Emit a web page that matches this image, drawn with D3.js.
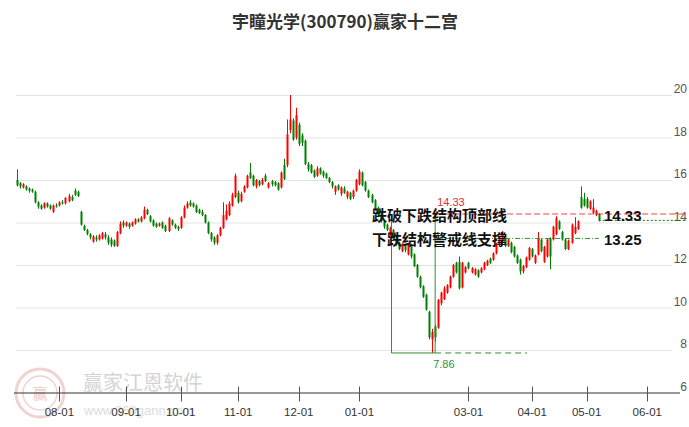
<!DOCTYPE html>
<html><head><meta charset="utf-8">
<script src="https://cdn.jsdelivr.net/npm/d3@7/dist/d3.min.js"></script>
<style>body{margin:0;background:#fff}svg{display:block}</style>
</head><body><svg id="c" width="689" height="427"></svg>
<script>
const chartTitle = "宇瞳光学(300790)赢家十二宫";
// [open, close, high, low] per trading day
const candles = [
[16.0,15.75,16.5,15.7],[15.85,15.7,15.9,15.6],[15.65,15.8,15.85,15.6],[15.7,15.55,15.75,15.5],[15.6,15.5,15.65,15.4],
[15.55,15.45,15.6,15.4],[15.45,14.95,15.5,14.9],[14.95,14.75,15.0,14.65],[14.8,14.65,14.85,14.6],[14.7,14.9,14.95,14.65],
[14.9,14.75,14.95,14.7],[14.8,14.65,14.85,14.6],[14.5,14.8,14.85,14.45],[14.8,14.75,14.9,14.7],[14.8,14.95,15.0,14.75],
[14.95,14.9,15.05,14.85],[14.9,15.15,15.2,14.85],[15.0,15.25,15.35,14.95],[15.2,15.05,15.3,15.0],[15.5,15.3,15.6,15.25],
[15.45,15.25,15.5,15.2],[14.5,13.9,14.55,13.85],[13.85,13.65,13.9,13.6],[13.65,13.45,13.7,13.4],[13.45,13.3,13.5,13.2],
[13.1,13.35,13.4,13.05],[13.3,13.2,13.4,13.1],[13.2,13.4,13.45,13.15],[13.25,13.5,13.55,13.2],[13.45,13.3,13.55,13.2],
[13.3,13.05,13.4,12.95],[13.2,12.95,13.3,12.85],[13.15,12.9,13.2,12.85],[12.9,13.55,13.6,12.85],[13.5,13.95,14.05,13.45],
[14.0,13.85,14.1,13.75],[13.85,14.0,14.05,13.8],[13.95,13.8,14.0,13.7],[13.85,14.0,14.05,13.8],[13.95,14.15,14.2,13.9],
[14.15,14.05,14.2,14.0],[14.05,14.25,14.3,14.0],[14.2,14.6,14.75,14.15],[14.6,14.4,14.65,14.35],[14.3,14.05,14.35,14.0],
[14.1,13.85,14.15,13.8],[13.95,13.8,14.0,13.75],[13.85,13.95,14.0,13.8],[14.0,13.75,14.05,13.7],[13.85,13.6,13.9,13.55],
[13.6,14.2,14.25,13.55],[14.1,13.9,14.15,13.85],[13.9,13.75,13.95,13.7],[13.8,13.7,13.85,13.6],[13.75,14.25,14.3,13.7],
[14.25,14.7,14.8,14.2],[14.7,14.9,15.0,14.65],[14.95,14.8,15.05,14.75],[14.9,14.75,14.95,14.7],[14.8,14.5,14.85,14.45],
[14.6,14.45,14.65,14.4],[14.5,14.35,14.6,14.3],[14.35,14.0,14.4,13.95],[14.0,13.5,14.05,13.45],[13.5,13.2,13.55,13.1],
[13.3,13.05,13.35,12.95],[13.05,13.4,13.45,12.95],[13.4,13.75,13.8,13.35],[13.75,14.35,14.95,13.7],[14.15,14.55,14.85,14.1],
[14.35,14.9,15.0,14.3],[14.8,15.3,15.4,14.75],[15.2,16.2,16.3,15.15],[15.4,14.95,15.5,14.9],[15.0,15.35,15.45,14.95],
[15.45,15.7,15.75,15.4],[15.65,16.2,16.25,15.6],[16.35,16.1,16.8,16.05],[16.2,15.75,16.25,15.7],[15.7,16.0,16.05,15.6],
[15.95,15.75,16.0,15.7],[15.8,16.0,16.1,15.75],[16.2,15.95,16.3,15.9],[15.65,15.85,15.9,15.6],[15.95,15.8,16.0,15.7],
[15.9,15.75,15.95,15.7],[15.85,15.55,15.9,15.5],[15.65,16.35,16.4,15.6],[16.7,16.05,17.0,16.0],[16.7,18.15,18.85,16.6],
[18.35,18.85,20.0,18.2],[18.8,17.9,18.9,17.85],[18.0,19.05,19.4,17.9],[18.6,17.7,18.7,17.6],[18.1,17.75,18.2,17.6],
[17.85,16.75,17.9,16.7],[16.75,16.5,16.85,16.4],[16.7,16.35,16.75,16.3],[16.45,16.15,16.5,16.1],[16.2,16.55,16.65,16.15],
[16.55,16.3,16.6,16.25],[16.4,16.2,16.45,16.1],[16.3,16.1,16.35,16.05],[16.1,15.9,16.15,15.85],[15.9,15.7,15.95,15.6],
[15.45,15.7,15.75,15.3],[15.75,15.55,15.8,15.5],[15.35,15.65,15.7,15.25],[15.6,15.4,15.7,15.35],[15.2,15.45,15.5,15.1],
[15.4,15.1,15.45,15.05],[15.2,15.5,15.55,15.1],[15.5,16.0,16.05,15.45],[15.8,16.4,16.5,15.75],[16.35,15.75,16.4,15.7],
[15.9,15.5,15.95,15.45],[15.5,15.2,15.55,15.15],[15.3,14.95,15.35,14.9],[15.05,14.6,15.1,14.55],[14.7,14.3,14.75,14.25],
[14.45,14.05,14.5,14.0],[14.05,13.8,14.1,13.7],[13.9,13.65,13.95,13.6],[13.45,13.75,13.8,13.35],[13.65,13.2,13.7,13.15],
[13.3,12.95,13.35,12.9],[13.05,12.75,13.1,12.7],[12.65,13.0,13.05,12.6],[12.95,12.7,13.0,12.6],[12.5,13.0,13.05,12.45],
[12.95,12.4,13.0,12.3],[12.5,11.95,12.55,11.9],[12.0,11.45,12.05,11.4],[11.45,10.95,11.5,10.9],[11.0,10.5,11.05,10.45],
[10.6,9.9,10.65,9.85],[9.8,8.6,9.85,8.5],[8.5,8.85,9.0,7.86],[9.1,8.6,9.2,8.4],[9.05,10.35,10.4,9.0],
[10.2,10.7,10.75,10.1],[10.4,10.9,11.0,10.35],[10.7,11.05,11.1,10.65],[10.95,11.45,11.5,10.9],[11.45,12.0,12.05,11.4],
[12.1,11.65,12.15,11.6],[12.15,10.9,12.4,10.85],[10.95,12.1,12.15,10.9],[11.65,11.9,11.95,11.6],[12.1,11.85,12.15,11.8],
[11.65,11.85,11.9,11.6],[11.55,11.8,11.85,11.5],[11.75,11.45,11.8,11.4],[11.65,11.85,11.9,11.6],[11.8,12.1,12.15,11.75],
[12.0,12.2,12.25,11.95],[12.3,12.1,12.35,12.05],[12.25,12.55,12.6,12.2],[12.55,13.0,13.05,12.5],[12.95,13.3,13.35,12.9],
[13.1,13.55,13.6,13.05],[13.35,12.9,13.4,12.85],[12.9,13.2,13.25,12.85],[13.05,12.6,13.1,12.55],[12.85,12.4,12.9,12.35],
[12.45,12.1,12.5,12.05],[12.25,11.7,12.3,11.55],[11.7,11.95,12.0,11.6],[11.9,12.35,12.4,11.85],[12.25,12.8,12.85,12.2],
[12.75,12.4,12.8,12.35],[12.1,12.45,12.5,12.05],[12.5,13.25,13.55,12.45],[13.2,12.65,13.25,12.6],[12.15,12.85,12.9,12.1],
[12.4,13.2,13.25,12.35],[13.25,12.4,13.3,11.8],[13.2,13.8,13.85,13.15],[13.45,14.2,14.3,13.4],[14.05,13.7,14.1,13.65],
[13.55,13.2,13.6,13.15],[13.2,12.75,13.25,12.7],[12.75,13.15,13.2,12.7],[13.05,13.9,13.95,13.0],[13.5,13.8,14.25,13.45],
[13.7,14.05,14.1,13.65],[15.2,14.7,15.7,14.65],[15.1,14.8,15.4,14.75],[15.1,14.7,15.2,14.65],[14.65,15.0,15.05,14.6],
[14.45,14.7,15.1,14.4],[14.35,14.55,14.6,14.3],[14.4,14.1,14.45,14.05]
];
const yTickValues = [6, 8, 10, 12, 14, 16, 18, 20];
const xTickIndex = [14, 36, 54, 73, 93, 113, 149, 170, 188, 208];
const xTickLabels = ["08-01","09-01","10-01","11-01","12-01","01-01","03-01","04-01","05-01","06-01"];
const topLinePrice = 14.33, supportPrice = 13.25, lowPrice = 7.86;
const boxLeftIdx = 123.6, boxRightIdx = 138, lowLineEndIdx = 168.3;
const signalTexts = ["跌破下跌结构顶部线", "下跌结构警戒线支撑"];
const signalValues = ["14.33", "13.25"];
const watermark = ["赢家江恩软件", "www.360gann.com"];

const svg = d3.select("#c");
const x = d3.scaleLinear().domain([0, 216]).range([17, 671.5]);
const y = d3.scaleLinear().domain([6, 20]).range([392.5, 95]);
const RED = "#ff0000", GREEN = "#008000";
const cjk = "'Noto Sans CJK SC','Noto Sans',sans-serif";
const latin = "'Liberation Sans',Arial,sans-serif";

// watermark
const wm = svg.append("g");
wm.append("circle").attr("cx", 40).attr("cy", 393).attr("r", 24).attr("fill", "none").attr("stroke", "#f2d2d2").attr("stroke-width", 3);
wm.append("circle").attr("cx", 40).attr("cy", 393).attr("r", 17).attr("fill", "none").attr("stroke", "#f2d2d2").attr("stroke-width", 1.5);
wm.append("text").attr("x", 40).attr("y", 399).attr("text-anchor", "middle").attr("font-family", cjk).attr("font-size", 15).attr("fill", "#f0cccc").text("赢");
wm.append("text").attr("x", 83).attr("y", 390).attr("font-family", cjk).attr("font-size", 20).attr("fill", "#d4d4d4").text(watermark[0]);
wm.append("text").attr("x", 84).attr("y", 415).attr("font-family", latin).attr("font-size", 13).attr("fill", "#dcdcdc").text(watermark[1]);

// title
svg.append("text").attr("x", 345).attr("y", 28).attr("text-anchor", "middle")
  .attr("font-family", cjk).attr("font-size", 17).attr("font-weight", "bold").attr("fill", "#333").text(chartTitle);

// grid + y labels
const grid = svg.append("g");
grid.selectAll("line").data(yTickValues.filter(v => v > 6)).join("line")
  .attr("x1", 16).attr("x2", 672).attr("y1", d => y(d) + 0.5).attr("y2", d => y(d) + 0.5)
  .attr("stroke", "#e3e3e3").attr("stroke-width", 1);
grid.selectAll("text").data(yTickValues).join("text")
  .attr("x", 687).attr("y", d => y(d) - 2).attr("text-anchor", "end")
  .attr("font-family", latin).attr("font-size", 12).attr("fill", "#555").text(d => d);

// x axis
const ax = svg.append("g");
const axisY = y(6);
ax.append("line").attr("x1", 14).attr("x2", 680).attr("y1", axisY + 0.5).attr("y2", axisY + 0.5).attr("stroke", "#333");
ax.selectAll("line.t").data(xTickIndex).join("line").attr("class", "t")
  .attr("x1", d => Math.round(x(d)) + 0.5).attr("x2", d => Math.round(x(d)) + 0.5)
  .attr("y1", axisY - 6).attr("y2", axisY + 9).attr("stroke", "#555");
ax.selectAll("text").data(xTickIndex).join("text")
  .attr("x", d => x(d)).attr("y", axisY + 23).attr("text-anchor", "middle")
  .attr("font-family", latin).attr("font-size", 11.5).attr("fill", "#333")
  .text((d, i) => xTickLabels[i]);

// candles
const cg = svg.append("g");
const col = d => d[1] >= d[0] ? RED : GREEN;
cg.selectAll("line").data(candles).join("line")
  .attr("x1", (d, i) => Math.round(x(i)) + 0.5).attr("x2", (d, i) => Math.round(x(i)) + 0.5)
  .attr("y1", d => y(d[2])).attr("y2", d => y(d[3])).attr("stroke", col).attr("stroke-width", 1);
cg.selectAll("rect").data(candles).join("rect")
  .attr("x", (d, i) => Math.round(x(i)) - 0.5).attr("width", 2)
  .attr("y", d => y(Math.max(d[0], d[1])))
  .attr("height", d => Math.max(1, Math.abs(y(d[0]) - y(d[1]))))
  .attr("fill", col);

// annotations
const an = svg.append("g");
const lastIdx = candles.length - 1, lastClose = candles[lastIdx][1];
an.append("path").attr("fill", "none").attr("stroke", "#2f8f2f").attr("stroke-width", 1)
  .attr("d", `M${x(boxLeftIdx)},${y(topLinePrice)}V${y(lowPrice)}H${x(boxRightIdx)}V${y(topLinePrice)}`);
an.append("line").attr("x1", x(boxRightIdx)).attr("x2", x(lowLineEndIdx)).attr("y1", y(lowPrice)).attr("y2", y(lowPrice))
  .attr("stroke", "#2f8f2f").attr("stroke-dasharray", "6,4");
an.append("line").attr("x1", x(boxRightIdx)).attr("x2", 687).attr("y1", y(topLinePrice) - 1.5).attr("y2", y(topLinePrice) - 1.5)
  .attr("stroke", "#ff4040").attr("stroke-dasharray", "6,3");
an.append("line").attr("x1", x(boxRightIdx)).attr("x2", x(lastIdx)).attr("y1", y(supportPrice)).attr("y2", y(supportPrice))
  .attr("stroke", "#2f8f2f").attr("stroke-dasharray", "5,2,1,2");
an.append("line").attr("x1", x(lastIdx)).attr("x2", 687).attr("y1", y(lastClose)).attr("y2", y(lastClose))
  .attr("stroke", GREEN).attr("stroke-dasharray", "2,2");
an.append("text").attr("x", x(boxRightIdx) + 2).attr("y", y(topLinePrice) - 9)
  .attr("font-family", latin).attr("font-size", 11).attr("fill", "#e03030").text(topLinePrice.toFixed(2));
an.append("text").attr("x", x(boxRightIdx) - 2).attr("y", y(lowPrice) + 15)
  .attr("font-family", latin).attr("font-size", 11).attr("fill", "#2f8f2f").text(lowPrice.toFixed(2));
[topLinePrice, supportPrice].forEach((p, i) => {
  an.append("text").attr("x", 372).attr("y", y(p) + (i === 0 ? 5.5 : 7)).attr("font-family", cjk)
    .attr("font-size", 15).attr("font-weight", "bold").attr("fill", "#111").text(signalTexts[i]);
  an.append("text").attr("x", 604).attr("y", y(p) + (i === 0 ? 5.5 : 7)).attr("font-family", latin)
    .attr("font-size", 15).attr("font-weight", "bold").attr("fill", "#111").text(signalValues[i]);
});
</script></body></html>
